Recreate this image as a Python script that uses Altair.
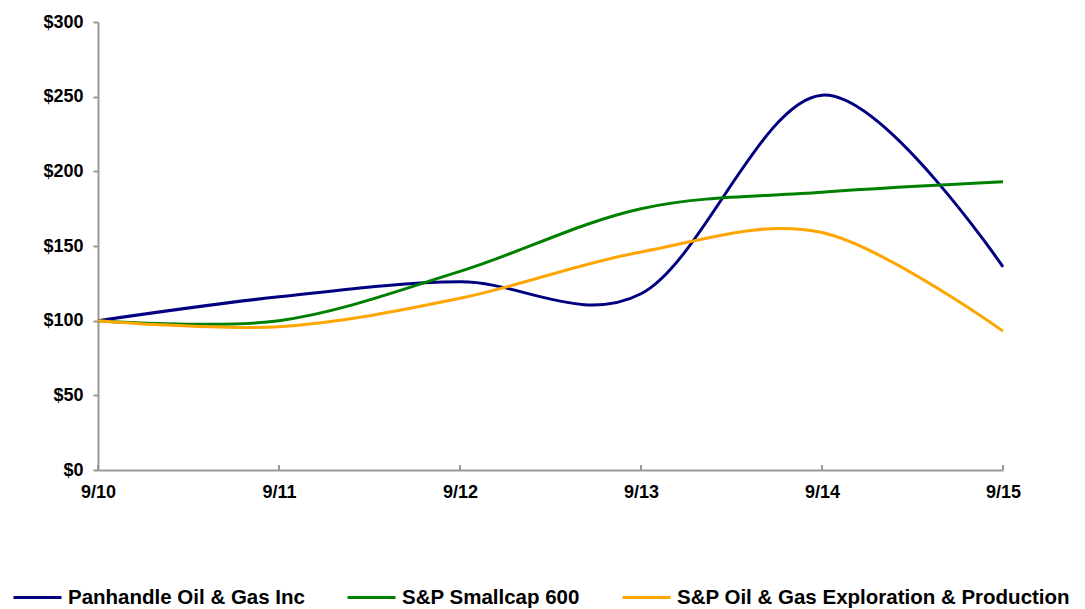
import altair as alt
import pandas as pd

dates = ["9/10", "9/11", "9/12", "9/13", "9/14", "9/15"]
series_names = ["Panhandle Oil & Gas Inc", "S&P Smallcap 600", "S&P Oil & Gas Exploration & Production"]
panhandle = [100, 116, 126, 118, 251, 136]
smallcap = [100, 100, 133, 175, 186, 193]
oilgas = [100, 96, 115, 146, 159, 93]
colors = ["#000080", "#008000", "#FFA500"]

rows = []
for name, vals in zip(series_names, [panhandle, smallcap, oilgas]):
    for d, v in zip(dates, vals):
        rows.append({"date": d, "value": v, "series": name})
df = pd.DataFrame(rows)
tick_df = pd.DataFrame({"date": dates})

FONT = "Liberation Sans"

x_enc = alt.X("date:N", sort=dates, scale=alt.Scale(type="point", padding=0),
              axis=alt.Axis(title=None, labelAngle=0, ticks=False, labelPadding=13,
                            labelFontSize=18, labelFont=FONT, labelFontWeight="bold",
                            labelColor="#000", domainColor="#999", domainWidth=2, grid=False))

lines = alt.Chart(df).mark_line(interpolate="cardinal", strokeWidth=3).encode(
    x=x_enc,
    y=alt.Y("value:Q", scale=alt.Scale(domain=[0, 300]),
            axis=alt.Axis(title=None, values=[0, 50, 100, 150, 200, 250, 300], format="$,.0f",
                          tickSize=5, tickColor="#999", tickWidth=2, labelPadding=10,
                          labelFontSize=18, labelFont=FONT, labelFontWeight="bold",
                          labelColor="#000", domainColor="#999", domainWidth=2, grid=False)),
    color=alt.Color("series:N", sort=series_names,
                    scale=alt.Scale(domain=series_names, range=colors),
                    legend=alt.Legend(title=None, orient="none", legendX=-86, legendY=550,
                                      direction="horizontal", columns=3, symbolType="stroke",
                                      symbolSize=2304, symbolStrokeWidth=3, labelOffset=5,
                                      columnPadding=36, labelFont=FONT, labelFontSize=20.5,
                                      labelFontWeight="bold", labelColor="#000", labelLimit=500)),
)

ticks = alt.Chart(tick_df).mark_rule(color="#999", strokeWidth=2).encode(
    x=alt.X("date:N", sort=dates, scale=alt.Scale(type="point", padding=0)),
    y=alt.value(448), y2=alt.value(443),
)

chart = alt.layer(lines, ticks).properties(
    width=905, height=448,
    autosize=alt.AutoSizeParams(type="none"),
    padding={"left": 90, "top": 14, "right": 74, "bottom": 138},
).configure_view(stroke=None)

chart.save("out.html", embed_options={"renderer": "svg", "actions": False})
